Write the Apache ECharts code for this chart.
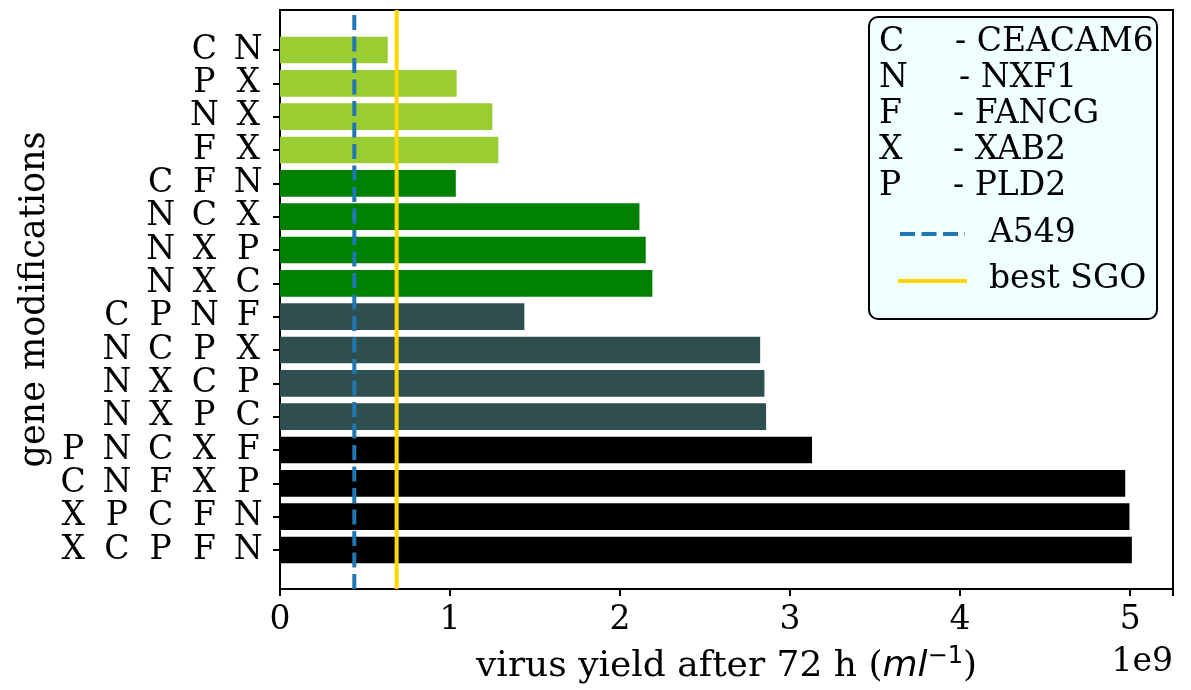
<!DOCTYPE html>
<html>
<head>
<meta charset="utf-8">
<script src="https://cdn.jsdelivr.net/npm/echarts@6/dist/echarts.min.js"></script>
<style>html,body{margin:0;padding:0;background:#fff;}#c{width:1191px;height:690px;}</style>
</head>
<body>
<div id="c"></div>
<script>
// Categories listed top to bottom
const categories = ['C N','P X','N X','F X','C F N','N C X','N X P','N X C','C P N F','N C P X','N X C P','N X P C','P N C X F','C N F X P','X P C F N','X C P F N'];
// virus yield after 72 h (ml^-1)
const yields = [0.634e9,1.039e9,1.249e9,1.284e9,1.034e9,2.114e9,2.151e9,2.190e9,1.437e9,2.824e9,2.849e9,2.859e9,3.129e9,4.971e9,4.996e9,5.010e9];
const a549 = 0.437e9;
const bestSGO = 0.686e9;
const xTicks = [0,1,2,3,4,5];
const geneKeys = ['C','N','F','X','P'];
const geneNames = ['CEACAM6','NXF1','FANCG','XAB2','PLD2'];

const FONT = 'DejaVu Serif';
const colorByCount = {2:'#9acd32',3:'#008000',4:'#2f4f4f',5:'#000000'};
const xMax = 5.252e9;

const chart = echarts.init(document.getElementById('c'));

const LF = '33px "'+FONT+'"';
const legendX = 869, legendY = 17, legendW = 288, legendH = 302;
const dashX = [955,959,953,953,953];
const graphics = [{
  type:'rect', shape:{x:legendX,y:legendY,width:legendW,height:legendH,r:9},
  style:{fill:'#f0ffff',stroke:'#000',lineWidth:2}, z:10
}];
geneKeys.forEach((k,i)=>{
  const y = 42 + i*36.2;
  graphics.push({type:'text', x:879, y:y, z:11, style:{text:k, font:LF, fill:'#000', verticalAlign:'middle', align:'left'}});
  graphics.push({type:'text', x:dashX[i], y:y, z:11, style:{text:'- '+geneNames[i], font:LF, fill:'#000', verticalAlign:'middle', align:'left'}});
});
graphics.push({type:'line', z:11, shape:{x1:900,y1:234,x2:965,y2:234}, style:{stroke:'#1f77b4',lineWidth:4,lineDash:[15,6.5]}});
graphics.push({type:'text', x:989, y:233, z:11, style:{text:'A549', font:LF, fill:'#000', verticalAlign:'middle'}});
graphics.push({type:'line', z:11, shape:{x1:898,y1:281,x2:967,y2:281}, style:{stroke:'#ffd700',lineWidth:4}});
graphics.push({type:'text', x:989, y:279, z:11, style:{text:'best SGO', font:LF, fill:'#000', verticalAlign:'middle'}});
graphics.push({type:'text', x:1173, y:662, z:11, style:{text:'1e9', font:LF, fill:'#000', verticalAlign:'middle', align:'right'}});

const option = {
  animation:false,
  backgroundColor:'#fff',
  grid:[
    {left:280,right:18,top:10,bottom:101,show:true,borderColor:'#000',borderWidth:2,backgroundColor:'transparent'},
    {left:280,right:18,top:33.33,bottom:123.33}
  ],
  xAxis:[
    {gridIndex:0,type:'value',min:0,max:xMax,interval:1e9,
     axisLine:{show:true,lineStyle:{color:'#000',width:2}},
     axisTick:{show:true,length:7,lineStyle:{color:'#000',width:2}},
     splitLine:{show:false},
     axisLabel:{color:'#000',fontSize:33,fontFamily:FONT,margin:15,
       formatter:(v)=>{const t=v/1e9; return xTicks.indexOf(Math.round(t))>=0 && Math.abs(t-Math.round(t))<1e-6 ? String(Math.round(t)) : '';}},
     name:'{a|virus yield after 72 h (}{i|ml}{s|−1}{a|)}',
     nameLocation:'middle',nameGap:56,
     nameTextStyle:{rich:{
       a:{fontSize:36,fontFamily:FONT,color:'#000',lineHeight:44},
       i:{fontSize:36,fontFamily:'DejaVu Sans',fontStyle:'italic',color:'#000',lineHeight:44},
       s:{fontSize:24,fontFamily:'DejaVu Sans',color:'#000',verticalAlign:'top',lineHeight:24}
     }}
    },
    {gridIndex:1,type:'value',min:0,max:xMax,show:false}
  ],
  yAxis:[
    {gridIndex:0,type:'value',min:0,max:1,
     axisLine:{show:false},axisTick:{show:false},axisLabel:{show:false},splitLine:{show:false},
     name:'gene modifications',nameLocation:'middle',nameGap:228,
     nameTextStyle:{fontSize:35,fontFamily:FONT,color:'#000'}
    },
    {gridIndex:1,type:'category',data:categories,inverse:true,
     axisLine:{show:false},
     axisTick:{show:true,alignWithLabel:true,length:7,lineStyle:{color:'#000',width:2}},
     axisLabel:{margin:10,
       formatter:(v)=>v.split(' ').map(l=>'{c|'+l+'}').join(''),
       rich:{c:{width:43.75,align:'center',fontSize:33,fontFamily:FONT,color:'#000'}}
     }
    }
  ],
  series:[
    {type:'bar',xAxisIndex:1,yAxisIndex:1,barWidth:'80%',z:2,silent:true,
     data:yields.map((v,i)=>({value:v,itemStyle:{color:colorByCount[categories[i].split(' ').length]}}))},
    {type:'line',xAxisIndex:0,yAxisIndex:0,z:5,silent:true,symbol:'none',
     data:[[a549,0],[a549,1]],lineStyle:{color:'#1f77b4',width:4,type:[15,6.5]}},
    {type:'line',xAxisIndex:0,yAxisIndex:0,z:5,silent:true,symbol:'none',
     data:[[bestSGO,0],[bestSGO,1]],lineStyle:{color:'#ffd700',width:4}}
  ],
  graphic:graphics
};
chart.setOption(option);
</script>
</body>
</html>
